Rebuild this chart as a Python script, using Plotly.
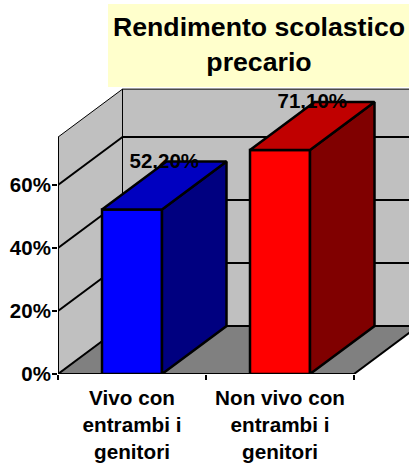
import plotly.graph_objects as go

categories = ["Vivo con<br>entrambi i<br>genitori", "Non vivo con<br>entrambi i<br>genitori"]
values = [52.2, 71.1]
value_labels = ["52,20%", "71,10%"]
y_ticks = [0, 20, 40, 60]
y_tick_labels = ["0%", "20%", "40%", "60%"]
title_text = "<b>Rendimento scolastico<br>precario</b>"

front_colors = ["#0000FF", "#FF0000"]
top_colors = ["#0000C0", "#C00000"]
side_colors = ["#000080", "#800000"]

# Chart geometry in axis units
W, H = 409, 465
L, B = 58, 91
PX_X = 148.0      # pixels per category
PX_Y = 3.15       # pixels per percent
DX = 64.5 / PX_X  # oblique depth, x
DY = 48 / PX_Y    # oblique depth, y
Y_MAX = 75.2
BAR_W = 60 / PX_X
N = len(categories)
centers = [i + 0.5 for i in range(N)]

LW = 2
BAR_LW = 2.5
shapes = []


def poly(pts, fill, width=0, color="black"):
    path = "M " + " L ".join(f"{x},{y}" for x, y in pts) + " Z"
    shapes.append(dict(type="path", path=path, xref="x", yref="y", layer="below",
                       fillcolor=fill, line=dict(color=color, width=width)))


def seg(x0, y0, x1, y1, width):
    shapes.append(dict(type="line", x0=x0, y0=y0, x1=x1, y1=y1, xref="x", yref="y",
                       layer="below", line=dict(color="black", width=width)))


# Title box
shapes.append(dict(type="rect", xref="paper", yref="paper",
                   x0=(108 - L) / (W - L), x1=1,
                   y0=(H - B - 87) / (H - B), y1=(H - B - 4) / (H - B),
                   layer="below", fillcolor="#FFFFCC", line=dict(width=0)))
# Walls and floor
poly([(DX, DY), (N + DX, DY), (N + DX, Y_MAX + DY), (DX, Y_MAX + DY)], "#C0C0C0", 1)
poly([(0, 0), (DX, DY), (DX, Y_MAX + DY), (0, Y_MAX)], "#C0C0C0", 1)
poly([(0, 0), (N, 0), (N + DX, DY), (DX, DY)], "#808080")
# Gridlines
for v in y_ticks:
    seg(0, v, DX, v + DY, LW)
    seg(DX, v + DY, N + DX, v + DY, LW)
# Axis lines
seg(0, 0, 0, Y_MAX, LW)
seg(0, 0, N, 0, LW)
seg(N, 0, N + DX, DY, LW)

fig = go.Figure()
fig.add_trace(go.Bar(x=centers, y=values, width=BAR_W,
                     marker=dict(color=front_colors, line=dict(color="black", width=BAR_LW)),
                     showlegend=False, hoverinfo="skip"))

# Top and side faces, projected from the values
for c, v, tc, sc in zip(centers, values, top_colors, side_colors):
    x0, x1 = c - BAR_W / 2, c + BAR_W / 2
    fig.add_trace(go.Scatter(x=[x1, x1 + DX, x1 + DX, x1, x1], y=[0, DY, v + DY, v, 0],
                             mode="lines", fill="toself", fillcolor=sc,
                             line=dict(color="black", width=BAR_LW), showlegend=False, hoverinfo="skip"))
    fig.add_trace(go.Scatter(x=[x0, x1, x1 + DX, x0 + DX, x0], y=[v, v, v + DY, v + DY, v],
                             mode="lines", fill="toself", fillcolor=tc,
                             line=dict(color="black", width=BAR_LW), showlegend=False, hoverinfo="skip"))

fig.add_trace(go.Scatter(x=[c + DX / 2 for c in centers], y=[v + DY - 0.3 for v in values],
                         mode="text", text=value_labels, textposition="middle center",
                         textfont=dict(family="Liberation Sans", size=20.5, color="black", weight="bold"),
                         cliponaxis=False, showlegend=False, hoverinfo="skip"))

fig.update_layout(
    width=W, height=H, autosize=False,
    margin=dict(l=L, r=0, t=0, b=B, pad=0),
    paper_bgcolor="white", plot_bgcolor="white",
    showlegend=False, shapes=shapes,
    font=dict(family="Liberation Sans", color="black"),
    title=dict(text=title_text, x=259 / W, xanchor="center", xref="container",
               y=1 - 36 / H, yanchor="top", yref="container",
               font=dict(family="Liberation Sans", size=26.7, color="black")),
    xaxis=dict(range=[0, (W - L) / PX_X], tickvals=centers, ticktext=[f"<b>{c}</b>" for c in categories],
               ticks="", showgrid=False, zeroline=False, showline=False, tickangle=0,
               tickfont=dict(size=20.7), ticklabelstandoff=9,
               minor=dict(tickvals=list(range(N + 1)), ticks="outside", ticklen=5, tickwidth=2, tickcolor="black")),
    yaxis=dict(range=[0, (H - B) / PX_Y], tickvals=y_ticks, ticktext=[f"<b>{t}</b>" for t in y_tick_labels],
               ticks="outside", ticklen=5, tickwidth=2, tickcolor="black",
               showgrid=False, zeroline=False, showline=False, ticklabelstandoff=-3,
               tickfont=dict(size=20.5)),
)

fig.write_html("out.html", config=dict(displayModeBar=False),
               post_script="document.body.style.margin='0';document.body.style.overflow='hidden';")
